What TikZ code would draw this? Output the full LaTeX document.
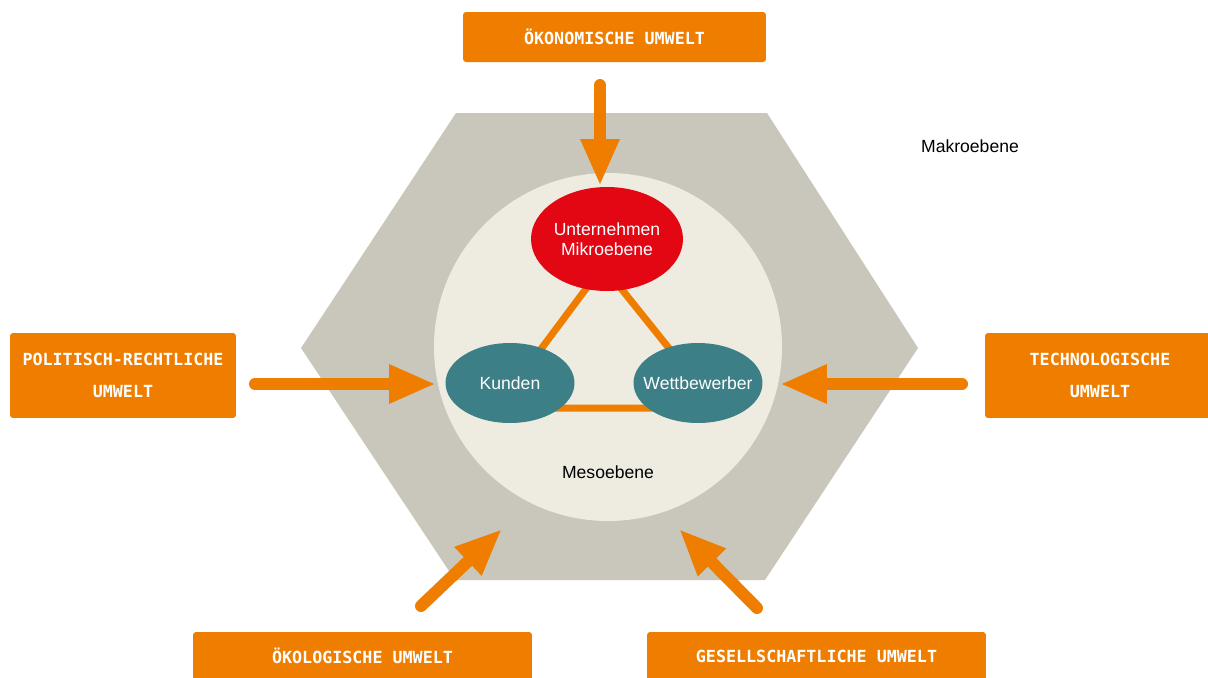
\documentclass[tikz,border=0pt]{standalone}
\usepackage{fontspec}
\setmainfont{Liberation Sans}
\newfontfamily\boxfont{DejaVu Sans Mono}
\usetikzlibrary{shapes.geometric,arrows.meta}
\definecolor{orng}{HTML}{EF7D00}
\definecolor{hexgrey}{HTML}{C9C7BB}
\definecolor{circbg}{HTML}{EEEBE1}
\definecolor{unred}{HTML}{E30613}
\definecolor{teal}{HTML}{3D7F87}
\tikzset{
  envbox/.style={fill=orng, rounded corners=0.06cm, text=white, align=center,
    font=\boxfont\bfseries\fontsize{9.5}{18.2}\selectfont, inner sep=0pt},
  envtext/.style={text=white, font=\boxfont\bfseries\fontsize{9.5}{11}\selectfont},
  actor/.style={ellipse, fill=teal, inner sep=0pt, minimum width=2.58cm, minimum height=1.6cm,
    label={[text=white, font=\fontsize{10}{11.5}\selectfont]center:#1}},
  firm/.style={ellipse, fill=unred, inner sep=0pt, minimum width=3.04cm, minimum height=2.08cm,
    label={[text=white, font=\fontsize{10}{11.5}\selectfont, align=center]center:#1}},
  envarrow/.style={draw=orng, line width=0.24cm, line cap=round,
    -{Triangle[length=0.94cm, width=0.72cm]}},
  tri/.style={draw=orng, line width=0.14cm},
  lbl/.style={font=\fontsize{10}{12}\selectfont, text=black}
}
\begin{document}
\begin{tikzpicture}[x=0.02cm,y=-0.02cm]
\clip (0,0) rectangle (1208,677);
\fill[white] (0,0) rectangle (1208,677);
% hexagon
\fill[hexgrey] (456,113) -- (767,113) -- (918,348) -- (765,580) -- (455,580) -- (301,348) -- cycle;
% circle
\fill[circbg] (608,347) circle[radius=174];
% triangle
\coordinate (ta) at (603,266);
\coordinate (tb) at (497,408);
\coordinate (tc) at (717,408);
\draw[tri] (ta) -- (tb) -- (tc) -- cycle;
% ellipses
\node[firm={Unternehmen\\Mikroebene}] (unt) at (607,239) {};
\node[actor={Kunden}] (kun) at (510,383) {};
\node[actor={Wettbewerber}] (wet) at (698,383) {};
% labels
\node[lbl] (makro) at (970,146) {Makroebene};
\node[lbl] (meso) at (608,472) {Mesoebene};
% boxes
\node[envbox, minimum width=6.06cm, minimum height=1.0cm] (oek) at (614.5,37) {ÖKONOMISCHE UMWELT};
\node[envbox, minimum width=4.52cm, minimum height=1.7cm] (pol) at (123,375.5) {POLITISCH-RECHTLICHE\\UMWELT};
\node[envbox, minimum width=4.6cm, minimum height=1.7cm] (tech) at (1100,375.5) {TECHNOLOGISCHE\\UMWELT};
\node[envbox, minimum width=6.78cm, minimum height=1.2cm] (oeko) at (362.5,662) {};
\node[envtext] (oekot) at (362.5,656) {ÖKOLOGISCHE UMWELT};
\node[envbox, minimum width=6.78cm, minimum height=1.2cm] (ges) at (816.5,662) {};
\node[envtext] (gest) at (816.5,656) {GESELLSCHAFTLICHE UMWELT};
% arrows
\coordinate (a1s) at (600,85);  \coordinate (a1e) at (600,186);
\coordinate (a2s) at (255,384); \coordinate (a2e) at (436,384);
\coordinate (a3s) at (962,384); \coordinate (a3e) at (780,384);
\coordinate (a4s) at (421,606); \coordinate (a4e) at (502,529);
\coordinate (a5s) at (757,608); \coordinate (a5e) at (679,529);
\draw[envarrow] (a1s) -- (a1e);
\draw[envarrow] (a2s) -- (a2e);
\draw[envarrow] (a3s) -- (a3e);
\draw[envarrow] (a4s) -- (a4e);
\draw[envarrow] (a5s) -- (a5e);
\end{tikzpicture}
\end{document}
